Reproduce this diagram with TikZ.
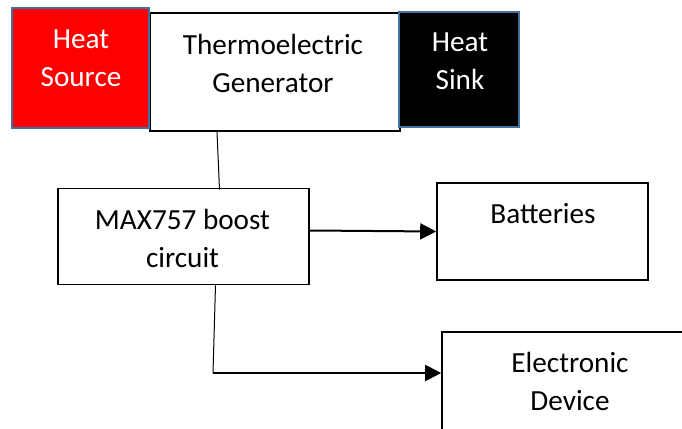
\documentclass[tikz,border=0pt]{standalone}
\usepackage{fontspec}
\setmainfont{Carlito}
\usetikzlibrary{arrows.meta,calc}
\definecolor{edgeblue}{HTML}{41719C}
\begin{document}
\begin{tikzpicture}[x=1pt,y=-1pt,
  box/.style={draw=black,line width=1.6pt,fill=white,inner sep=0pt},
  bluebox/.style={draw=edgeblue,line width=2.4pt,inner sep=0pt},
  txt/.style={font=\fontsize{29.2}{38}\selectfont,align=center,inner sep=0pt},
  arr/.style={line width=2pt,-{Triangle[length=16pt,width=16pt]}},
  thinline/.style={line width=1pt}]
\useasboundingbox (0,0) rectangle (682,428);
\clip (0,0) rectangle (682,428);
% top row
\node[box,minimum width=250pt,minimum height=118pt] (teg) at (275,72) {};
\node[bluebox,fill=red,minimum width=137pt,minimum height=120pt] (src) at (80.5,68) {};
\node[bluebox,fill=black,minimum width=120pt,minimum height=115pt] (sink) at (459,69.5) {};
\node[txt,text=white] (srct) at (81,58) {Heat\\Source};
\node[txt] (tegt) at (273,63) {Thermoelectric\\Generator};
\node[txt,text=white] (sinkt) at (460,61) {Heat\\Sink};
% middle
\node[box,minimum width=251pt,minimum height=96pt] (max) at (183.5,236.5) {};
\node[txt] (maxt) at (182.5,238) {MAX757 boost\\circuit};
\node[box,minimum width=211pt,minimum height=97pt] (bat) at (542.5,231.5) {};
\node[txt] (batt) at (543,214) {Batteries};
% bottom
\node[box,minimum width=260pt,minimum height=120pt] (elec) at (572,392) {};
\node[txt] (elect) at (570,381) {Electronic\\Device};
% connectors
\draw[thinline] ([xshift=-58pt]teg.south) -- ([xshift=36pt,yshift=-2pt]max.north);
\draw[arr] ([yshift=6pt]max.east) -- (bat.west);
\coordinate (bend) at (213,373);
\draw[thinline] ([xshift=32pt]max.south) -- (bend);
\draw[arr] (bend) -- (bend -| elec.west);
\end{tikzpicture}
\end{document}
